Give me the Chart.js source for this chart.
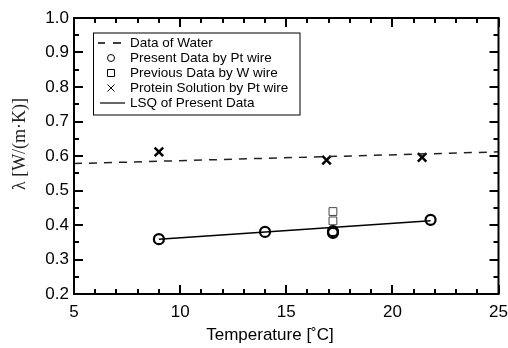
<!DOCTYPE html>
<html>
<head>
<meta charset="utf-8">
<script src="https://cdn.jsdelivr.net/npm/chart.js@4.4.0/dist/chart.umd.min.js"></script>
<style>
    html, body { margin: 0; padding: 0; background: #fff; }
    #wrap { width: 508px; height: 348px; }
</style>
</head>
<body>
<div id="wrap"><canvas id="myChart"></canvas></div>
<script>
// Values (temperature in C, conductivity in W/(m K))
const waterT = [5, 25];
const waterK = [0.578, 0.612];
const presentT = [9.0, 14.0, 17.2, 17.2, 21.8];
const presentK = [0.359, 0.380, 0.377, 0.382, 0.415];
const previousT = [17.2, 17.2];
const previousK = [0.439, 0.412];
const proteinT = [9.0, 16.9, 21.4];
const proteinK = [0.612, 0.588, 0.596];
const lsqT = [9.0, 21.8];
const lsqK = [0.359, 0.412];

const xTickValues = [5, 10, 15, 20, 25];
const yTickValues = [0.2, 0.3, 0.4, 0.5, 0.6, 0.7, 0.8, 0.9, 1.0];

const seriesLabels = [
    'Data of Water',
    'Present Data by Pt wire',
    'Previous Data by W wire',
    'Protein Solution by Pt wire',
    'LSQ of Present Data'
];

function toPoints(xs, ys) {
    return xs.map(function(x, i) { return { x: x, y: ys[i] }; });
}

// Legend drawn as a framed box inside the plot, like the original figure
const boxLegend = {
    id: 'boxLegend',
    afterDatasetsDraw: function(chart) {
        const ctx = chart.ctx;
        const left = 93.5, top = 33, right = 300, bottom = 115;
        const iconX = 111, textX = 130, rowY = 43, rowStep = 15;
        ctx.save();
        ctx.setLineDash([]);
        ctx.fillStyle = '#fff';
        ctx.fillRect(left, top, right - left, bottom - top);
        ctx.strokeStyle = '#000';
        ctx.lineWidth = 1;
        ctx.strokeRect(left, top, right - left, bottom - top);

        ctx.font = '13.5px "Liberation Sans", Arial, sans-serif';
        ctx.fillStyle = '#000';
        ctx.textBaseline = 'middle';
        ctx.textAlign = 'left';

        chart.data.datasets.forEach(function(ds, i) {
            const y = rowY + i * rowStep;
            ctx.fillText(ds.label, textX, y + 0.5);
            ctx.beginPath();
            if (ds.legendIcon === 'dash') {
                ctx.lineWidth = 1.5;
                ctx.moveTo(98, y); ctx.lineTo(105, y);
                ctx.moveTo(113, y); ctx.lineTo(121, y);
            } else if (ds.legendIcon === 'line') {
                ctx.lineWidth = 1.2;
                ctx.moveTo(100, y); ctx.lineTo(125, y);
            } else if (ds.legendIcon === 'circle') {
                ctx.lineWidth = 1;
                ctx.arc(iconX, y, 3.5, 0, Math.PI * 2);
            } else if (ds.legendIcon === 'rect') {
                ctx.lineWidth = 1;
                ctx.rect(iconX - 3.5, y - 3.5, 7, 7);
            } else if (ds.legendIcon === 'cross') {
                ctx.lineWidth = 1;
                ctx.moveTo(iconX - 3.5, y - 3.5); ctx.lineTo(iconX + 3.5, y + 3.5);
                ctx.moveTo(iconX + 3.5, y - 3.5); ctx.lineTo(iconX - 3.5, y + 3.5);
            }
            ctx.stroke();
        });
        ctx.restore();
    }
};

// Frame on all four sides with inward major and minor ticks, plus axis titles
const frameTicks = {
    id: 'frameTicks',
    afterDraw: function(chart) {
        const ctx = chart.ctx;
        const area = chart.chartArea;
        const xs = chart.scales.x, ys = chart.scales.y;
        const L = area.left, R = area.right, T = area.top, B = area.bottom;
        ctx.save();
        ctx.setLineDash([]);
        ctx.globalAlpha = 1;
        ctx.strokeStyle = '#000000';
        ctx.lineWidth = 2;

        ctx.beginPath();
        ctx.rect(L, T, R - L, B - T);
        for (let i = 0; i <= 20; i++) {
            const px = Math.round(xs.getPixelForValue(5 + i));
            const len = (i % 5 === 0) ? 9 : 5;
            ctx.moveTo(px, B); ctx.lineTo(px, B - len);
            ctx.moveTo(px, T); ctx.lineTo(px, T + len);
        }
        for (let i = 0; i <= 16; i++) {
            const py = Math.round(ys.getPixelForValue(0.2 + i * 0.05));
            const len = (i % 2 === 0) ? 9 : 5;
            ctx.moveTo(L, py); ctx.lineTo(L + len, py);
            ctx.moveTo(R, py); ctx.lineTo(R - len, py);
        }
        ctx.stroke();

        ctx.fillStyle = '#000';
        ctx.textAlign = 'center';
        ctx.textBaseline = 'middle';
        ctx.font = '17px "Liberation Sans", Arial, sans-serif';
        ctx.fillText('Temperature [\u02DAC]', 270, 335);

        ctx.translate(20.5, 144);
        ctx.rotate(-Math.PI / 2);
        ctx.fillStyle = '#222';
        ctx.font = '18px "Liberation Serif", "Times New Roman", serif';
        ctx.fillText('\u03BB [W/(m\u00B7K)]', 0, 0);
        ctx.restore();
    }
};

document.addEventListener('DOMContentLoaded', function() {
    const canvas = document.getElementById('myChart');
    const tickFont = { family: '"Liberation Sans", Arial, sans-serif', size: 17 };

    new Chart(canvas, {
        type: 'scatter',
        data: {
            datasets: [{
                label: seriesLabels[0],
                legendIcon: 'dash',
                type: 'line',
                data: toPoints(waterT, waterK),
                borderColor: '#222',
                borderWidth: 1.5,
                borderDash: [8, 7],
                pointRadius: 0,
                fill: false
            }, {
                label: seriesLabels[1],
                legendIcon: 'circle',
                data: toPoints(presentT, presentK),
                pointStyle: 'circle',
                pointRadius: 5,
                borderWidth: 2.2,
                borderColor: '#000',
                backgroundColor: 'rgba(0,0,0,0)'
            }, {
                label: seriesLabels[2],
                legendIcon: 'rect',
                data: toPoints(previousT, previousK),
                pointStyle: 'rect',
                pointRadius: 5.5,
                borderWidth: 1,
                borderColor: '#444',
                backgroundColor: 'rgba(0,0,0,0)'
            }, {
                label: seriesLabels[3],
                legendIcon: 'cross',
                data: toPoints(proteinT, proteinK),
                pointStyle: 'crossRot',
                pointRadius: 6,
                borderWidth: 2.5,
                borderColor: '#000'
            }, {
                label: seriesLabels[4],
                legendIcon: 'line',
                type: 'line',
                data: toPoints(lsqT, lsqK),
                borderColor: '#000',
                borderWidth: 1.5,
                pointRadius: 0,
                fill: false
            }]
        },
        options: {
            responsive: true,
            maintainAspectRatio: false,
            animation: false,
            devicePixelRatio: 1,
            layout: {
                padding: { left: 0, right: 9.5, top: 18, bottom: 0 }
            },
            scales: {
                x: {
                    type: 'linear',
                    min: 5,
                    max: 25,
                    afterBuildTicks: function(scale) {
                        scale.ticks = xTickValues.map(function(v) { return { value: v }; });
                    },
                    afterFit: function(scale) {
                        scale.height = 54;
                        scale.paddingLeft = 0;
                        scale.paddingRight = 0;
                    },
                    ticks: {
                        font: tickFont,
                        color: '#000',
                        padding: 8,
                        maxRotation: 0,
                        callback: function(value) { return String(value); }
                    },
                    grid: { display: false, drawTicks: false },
                    border: { display: false }
                },
                y: {
                    type: 'linear',
                    min: 0.2,
                    max: 1.0,
                    afterBuildTicks: function(scale) {
                        scale.ticks = yTickValues.map(function(v) { return { value: v }; });
                    },
                    afterFit: function(scale) {
                        scale.width = 74;
                        scale.paddingTop = 0;
                        scale.paddingBottom = 0;
                    },
                    ticks: {
                        font: tickFont,
                        color: '#000',
                        padding: 5,
                        callback: function(value) { return value.toFixed(1); }
                    },
                    grid: { display: false, drawTicks: false },
                    border: { display: false }
                }
            },
            plugins: {
                legend: { display: false },
                tooltip: { enabled: false }
            }
        },
        plugins: [boxLegend, frameTicks]
    });
});
</script>
</body>
</html>
